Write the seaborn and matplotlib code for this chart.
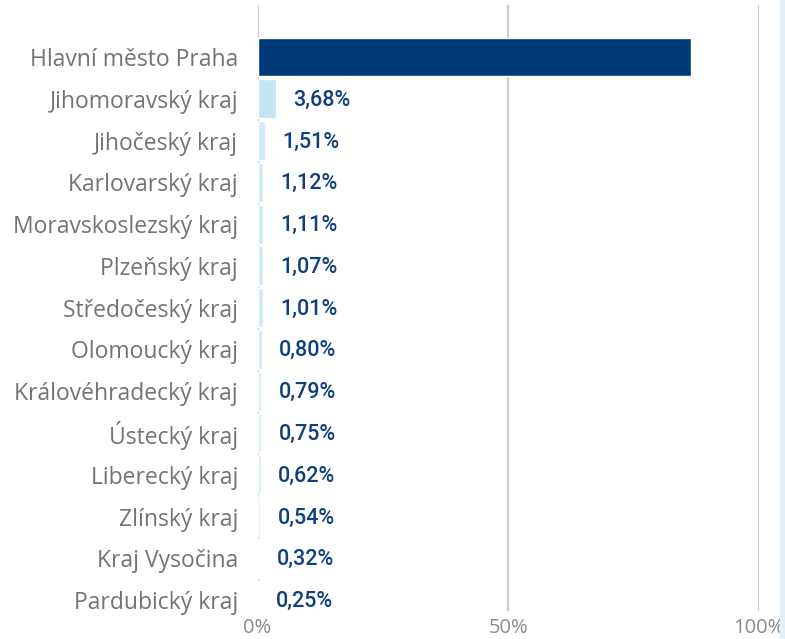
import pandas as pd
import matplotlib.pyplot as plt
import matplotlib.patches as mpatches
import seaborn as sns

# Data
regions = ['Hlavní město Praha', 'Jihomoravský kraj', 'Jihočeský kraj', 'Karlovarský kraj',
           'Moravskoslezský kraj', 'Plzeňský kraj', 'Středočeský kraj', 'Olomoucký kraj',
           'Královéhradecký kraj', 'Ústecký kraj', 'Liberecký kraj', 'Zlínský kraj',
           'Kraj Vysočina', 'Pardubický kraj']
shares = [86.43, 3.68, 1.51, 1.12, 1.11, 1.07, 1.01, 0.80, 0.79, 0.75, 0.62, 0.54, 0.32, 0.25]
labels = ['', '3,68%', '1,51%', '1,12%', '1,11%', '1,07%', '1,01%', '0,80%', '0,79%',
          '0,75%', '0,62%', '0,54%', '0,32%', '0,25%']
colors = ['#003b79', '#c2e5f2'] + ['#cfebf6'] * 12

df = pd.DataFrame({'region': regions, 'share': shares})

sns.set_style('white')
fig = plt.figure(figsize=(7.85, 6.39), dpi=100)
ax = fig.add_axes([257.5 / 785, 1 - 610.5 / 639, (759 - 257.5) / 785, (610.5 - 5) / 639])

sns.barplot(data=df, x='share', y='region', hue='region', palette=colors, saturation=1,
            legend=False, width=0.93, ax=ax, zorder=3)

ax.set_xlim(0, 100)
ax.set_ylim(13.25, -1.245)
ax.set_xticks([0, 50, 100])
ax.set_xticklabels(['0%', '50%', '100%'], family='Open Sans', fontsize=14.5, color='#8a8a8a')
ax.xaxis.grid(True, color='#cccccc', linewidth=1.6, zorder=0)
ax.set_axisbelow(True)
ax.tick_params(axis='both', length=0)
ax.tick_params(axis='x', pad=5.5)
ax.tick_params(axis='y', pad=14)
for lbl in ax.get_yticklabels():
    lbl.set_family('Open Sans')
    lbl.set_fontsize(16.5)
    lbl.set_color('#737373')
ax.set_xlabel('')
ax.set_ylabel('')
for s in ax.spines.values():
    s.set_visible(False)

# value labels
for i, (v, t) in enumerate(zip(shares, labels)):
    if t:
        ax.annotate(t, (v, i), xytext=(12.5, -1), textcoords='offset points',
                    va='center', ha='left', family='Roboto', fontweight='medium',
                    fontsize=15.5, color='#0f3f7c')

# light strip on the right edge
fig.patches.append(mpatches.Rectangle((780 / 785, 0), 5 / 785, 1, transform=fig.transFigure,
                                      color='#e4f0f9', zorder=0))

fig.savefig('out.png', dpi=100)
